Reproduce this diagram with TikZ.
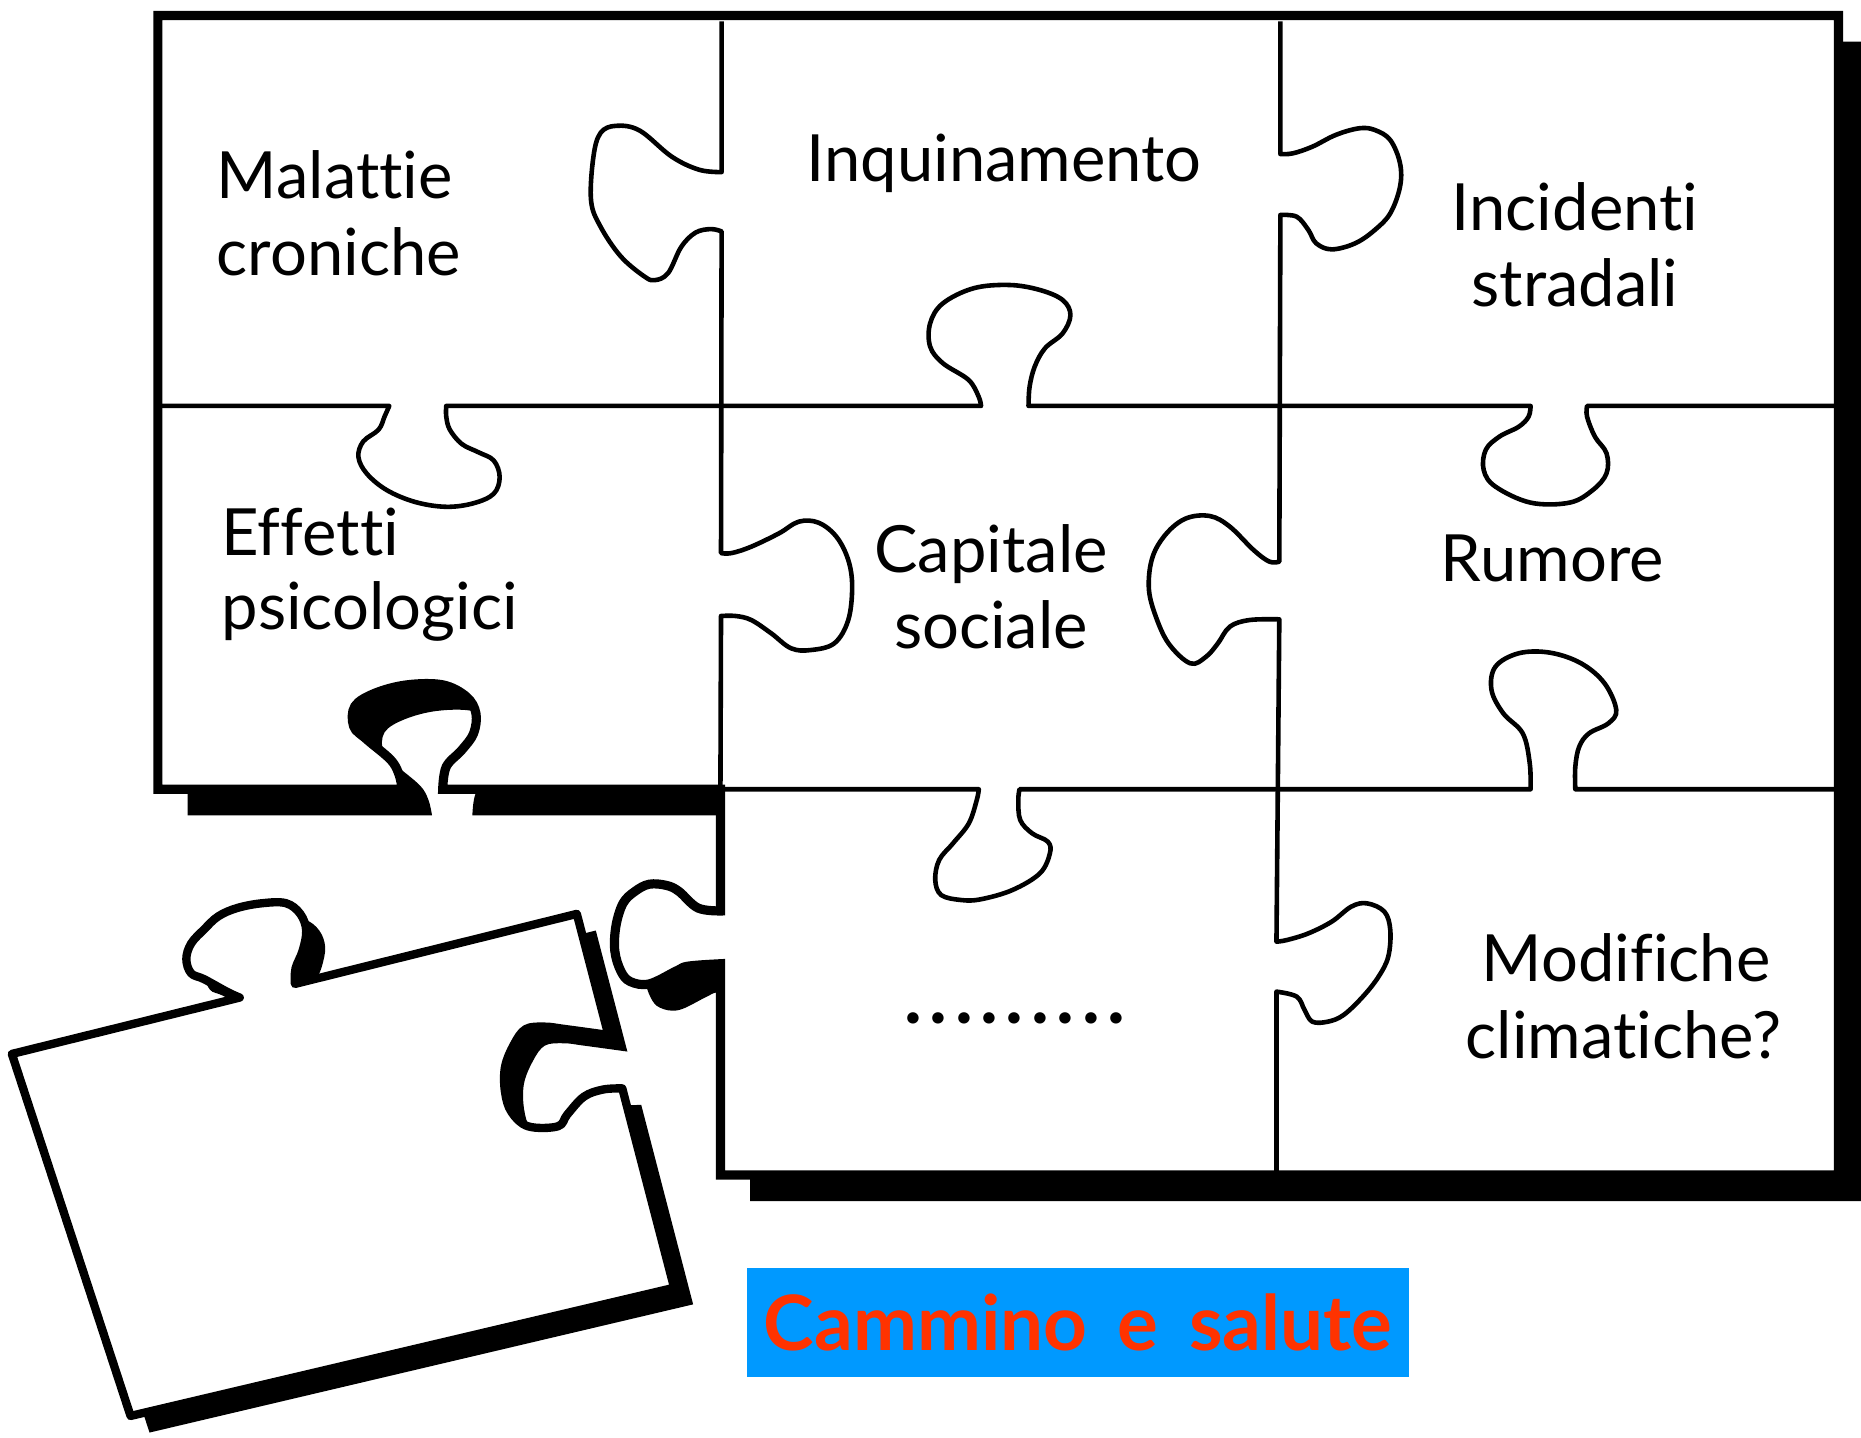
\documentclass[tikz,border=0pt]{standalone}
\usepackage{fontspec}
\setmainfont[Ligatures=NoCommon]{Lato}
\definecolor{boxblue}{HTML}{0099FF}
\definecolor{titlered}{HTML}{FF3300}
\begin{document}
\begin{tikzpicture}[x=0.01cm,y=-0.01cm,
  grid/.style={line width=1.1pt, line join=round},
  frame/.style={line width=2.2pt, line join=miter},
  piece/.style={line width=2pt, line join=round},
  lbl/.style={inner sep=0pt, font=\fontsize{15.6}{18}\selectfont},
  sm/.style={smooth, tension=0.6}]
\useasboundingbox[fill=white] (0,0) rectangle (1568,1211);

% outline of the assembled board (with the protruding tab and the open socket)
\def\boardoutline{(133,13) -- (1549,13) -- (1549,990) -- (607,990) -- (607,812)
  -- plot[sm] coordinates {(607,812) (580,814) (570,818) (547,829) (531,827) (523,818)
     (518,801) (519,780) (525,761) (535,751) (547,745) (561.5,746) (572,751) (588,765) (607,767.5)}
  -- (607,665) -- (373,665)
  -- plot[sm] coordinates {(373,665) (376,646) (389,632) (399,618) (401,601) (393,587)
     (373,577) (343,577) (316,584) (299,595) (298,612) (309,623) (329,640) (336,652) (339,665)}
  -- (133,665) -- cycle}

% outline of the loose piece
\def\looseoutline{(10,888) -- (202,840.5)
  -- plot[sm] coordinates {(202,840.5) (192,836) (172,825) (161,820) (157,808) (161,795)
     (172,783) (184,772) (200,765) (221,761) (241,761) (253,770) (258,784) (255,801)
     (249,816) (248.5,829)}
  -- (486,770) -- (512.6,872)
  -- plot[sm] coordinates {(512.6,872) (476,867) (459,865) (443,867) (433,880) (425.5,899)
     (425.5,920) (431,937) (445,949) (470,949) (478,939) (492,924) (508,918) (524.3,917)}
  -- (568,1085) -- (110,1193) -- cycle}

% board: shadow, face, border
\fill[black, shift={(25,22)}] \boardoutline;
\fill[white] \boardoutline;

% inner cuts between the pieces
\draw[grid] (136,342) -- (328,342)
  -- plot[sm] coordinates {(328,342) (324,351) (319,362) (306,372) (302,385) (309,399)
     (326,413) (350,423) (376,427) (399,424) (416,416) (421,402) (416,388) (403,381)
     (389,374) (379,362) (376,351) (376,342)}
  -- (826.6,342)
  -- plot[sm] coordinates {(826.6,342) (824.5,334) (816,320) (794.4,306) (783.7,292)
     (783.7,272.4) (794.4,255.6) (820.2,242.9) (850.3,240.1) (876.1,244.3) (895.4,252.8)
     (901.9,265.4) (895.4,280.8) (880.4,293.5) (871.8,308.9) (867.5,325.8) (866.6,342)}
  -- (1289.6,342)
  -- plot[sm] coordinates {(1289.6,342) (1287.9,351.1) (1279.7,359.5) (1263.3,367.9)
     (1251.8,379.1) (1250.1,396) (1260,410) (1289.6,423.5) (1322.4,423.5) (1342.1,412.8)
     (1353.6,398.8) (1353.6,381.9) (1343.8,367.9) (1337.2,351.1) (1337.2,342)}
  -- (1549,342);

\draw[grid] (607,665) -- (824.7,665)
  -- plot[sm] coordinates {(824.7,665) (823,674) (816.3,693.7) (803,710.5) (791.3,724.6)
     (788,741.4) (793,754.1) (809.7,758.3) (826.3,757.7) (853,749.9) (876.2,735.8)
     (884.6,719) (882.9,709.2) (869.6,702.1) (859.6,690.9) (858,674) (859,665)}
  -- (1289.6,665)
  -- plot[sm] coordinates {(1289.6,665) (1288.9,643.1) (1283,617.9) (1266.6,601)
     (1256.7,581.4) (1260,561.7) (1279.7,550.4) (1306,549.9) (1332.2,558.9) (1351.9,575.7)
     (1361.8,598.2) (1355.2,609.4) (1338.8,617.9) (1330.6,629.1) (1327.3,646) (1327.3,665)}
  -- (1549,665);

\draw[grid] (608,18) -- (608,145)
  -- plot[sm] coordinates {(608,145) (589,143) (566,132) (539,110) (519,106) (506,112)
     (500,132) (498,169) (506,191) (523,216) (543,233) (552,236) (563,230) (574,208)
     (586,196) (599,193) (608,195)}
  -- (607.5,466)
  -- plot[sm] coordinates {(607.5,466) (616.4,466) (633,460.6) (656.3,449.4) (673.1,439.5)
     (689.7,440.4) (704.7,452.2) (714.7,471.8) (718,494.3) (714.7,522.4) (703,542)
     (683,547.7) (666.5,546.2) (649.8,533.6) (633,522.4) (619.8,519) (607.5,519)}
  -- (607,665);

\draw[grid] (1078.8,18) -- (1078.8,129.8)
  -- plot[sm] coordinates {(1078.8,129.8) (1089.3,129.2) (1105.7,123.6) (1125.4,113.7)
     (1145.1,108.1) (1158.3,109.5) (1171.4,118) (1179.6,137.6) (1179.6,157.3)
     (1171.4,179.7) (1158.3,193.8) (1141.8,205) (1122.1,210.1) (1109,205) (1102.4,193.8)
     (1092.6,182.6) (1078.8,181.1)}
  -- (1077.9,473.2)
  -- plot[sm] coordinates {(1077.9,473.2) (1069.5,473.2) (1056.2,463.4) (1036.2,443.7)
     (1019.5,434.8) (999.5,436.7) (982.9,449.4) (971.2,469) (967.9,494.3) (972.9,516.8)
     (984.5,542) (1002.9,558.9) (1016.2,553.3) (1026.2,542) (1036.2,528) (1052.8,522.4)
     (1077.9,521.8)}
  -- (1075.5,793.4)
  -- plot[sm] coordinates {(1075.5,793.4) (1084.4,792) (1102.4,786.4) (1122.1,776.5)
     (1138.5,763.9) (1151.7,761.1) (1166.4,768.1) (1171.4,783.6) (1169.7,806)
     (1161.5,822.9) (1148.3,839.7) (1132,855.2) (1118.8,860.8) (1105.7,860.8) (1099.2,851)
     (1092.6,839.7) (1075.5,835.5)}
  -- (1075.5,990);

\draw[frame] \boardoutline;

% labels on the pieces
\node[lbl, anchor=base west] (mal1) at (182,167) {Malattie};
\node[lbl, anchor=base west] (mal2) at (182,232) {croniche};
\node[lbl, anchor=base] (inq) at (846,153) {Inquinamento};
\node[lbl, anchor=base] (inc1) at (1327,194) {Incidenti};
\node[lbl, anchor=base] (inc2) at (1327,258) {stradali};
\node[lbl, anchor=base west] (eff1) at (186,468) {Effetti};
\node[lbl, anchor=base west] (eff2) at (186,530) {psicologici};
\node[lbl, anchor=base] (cap1) at (835,482) {Capitale};
\node[lbl, anchor=base] (cap2) at (835,546) {sociale};
\node[lbl, anchor=base] (rum) at (1308,490) {Rumore};
\node[lbl, anchor=base] (mod1) at (1370,827) {Modifiche};
\node[lbl, anchor=base] (mod2) at (1368,892) {climatiche?};
\node[inner sep=0pt, anchor=base, font=\fontsize{18}{20}\selectfont\bfseries\addfontfeatures{LetterSpace=10}]
  (dots) at (855,862) {.........};

% loose piece: shadow, face, border
\fill[black, shift={(16,14)}] \looseoutline;
\fill[white] \looseoutline;
\draw[piece] \looseoutline;

% title banner
\node[fill=boxblue, minimum width=5.575cm, minimum height=0.92cm, inner sep=0pt,
  text=titlered, font=\fontsize{18.3}{22}\selectfont\bfseries] (title) at (908.3,1114)
  {Cammino\hspace{0.4em}e\hspace{0.4em}salute};
\end{tikzpicture}
\end{document}
